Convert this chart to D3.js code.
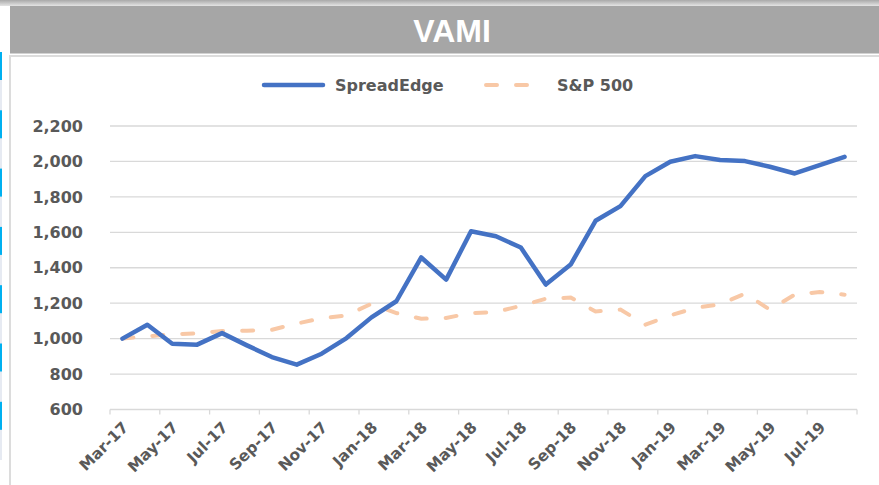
<!DOCTYPE html>
<html>
<head>
<meta charset="utf-8">
<script src="https://cdn.jsdelivr.net/npm/d3@7"></script>
<style>
  html, body { margin: 0; padding: 0; background: #fff; }
  svg { display: block; }
</style>
</head>
<body>
<script>
// data
const months = ["Mar-17","Apr-17","May-17","Jun-17","Jul-17","Aug-17","Sep-17","Oct-17","Nov-17","Dec-17",
  "Jan-18","Feb-18","Mar-18","Apr-18","May-18","Jun-18","Jul-18","Aug-18","Sep-18","Oct-18","Nov-18","Dec-18",
  "Jan-19","Feb-19","Mar-19","Apr-19","May-19","Jun-19","Jul-19","Aug-19"];
const spreadEdge = [1000,1078,971,966,1031,962,896,853,915,1003,1120,1211,1458,1333,1606,1578,1514,1305,1418,
  1665,1748,1917,1998,2030,2008,2002,1970,1932,1979,2026];
const sp500 = [1000,1013,1024,1030,1043,1045,1050,1085,1115,1131,1197,1144,1112,1117,1144,1150,1185,1225,1232,
  1153,1164,1079,1131,1173,1194,1254,1164,1248,1263,1248];
const yTicks = [600,800,1000,1200,1400,1600,1800,2000,2200];
const seriesNames = ["SpreadEdge","S&P 500"];

const width = 879, height = 485;
const plot = { left: 110, right: 857, top: 126, bottom: 409.5 };

const svg = d3.select("body").append("svg")
  .attr("width", width).attr("height", height)
  .attr("viewBox", [0, 0, width, height]);

// frame bits around the chart (it is a screenshot of a sheet)
const grad = svg.append("defs").append("linearGradient")
  .attr("id", "topg").attr("x1", 0).attr("x2", 0).attr("y1", 0).attr("y2", 1);
grad.append("stop").attr("offset", 0).attr("stop-color", "#a9a9a9");
grad.append("stop").attr("offset", 1).attr("stop-color", "#e4e4e4");
svg.append("rect").attr("x", 0).attr("y", 0).attr("width", width).attr("height", 6).attr("fill", "url(#topg)");

svg.append("rect").attr("x", 10).attr("y", 6).attr("width", width - 10).attr("height", 47.5)
  .attr("fill", "#a6a6a6");
svg.append("text")
  .attr("x", 452).attr("y", 41.5)
  .attr("text-anchor", "middle")
  .attr("fill", "#fff")
  .style("font-family", "'Liberation Sans', Arial, sans-serif")
  .style("font-weight", "bold")
  .style("font-size", "32px")
  .text("VAMI");

// panel borders
svg.append("rect").attr("x", 10).attr("y", 55).attr("width", width - 10).attr("height", 2).attr("fill", "#dcdcdc");
svg.append("rect").attr("x", 9).attr("y", 55).attr("width", 2).attr("height", height - 55).attr("fill", "#dcdcdc");

// left strip
svg.append("rect").attr("x", 0).attr("y", 52).attr("width", 2).attr("height", 408).attr("fill", "#e6eaf2");
d3.range(7).forEach(k => {
  svg.append("rect").attr("x", 0).attr("y", 52 + k * 58.3).attr("width", 2).attr("height", 28)
    .attr("fill", "#00b0f0");
});

// scales
const x = d3.scaleBand().domain(months).range([plot.left, plot.right]).padding(0);
const y = d3.scaleLinear().domain([600, 2200]).range([plot.bottom, plot.top]);
const cx = m => x(m) + x.bandwidth() / 2;

// gridlines + y labels
const yAxis = d3.axisLeft(y).tickValues(yTicks).tickFormat(d3.format(",")).tickSize(0).tickPadding(0);
svg.append("g")
  .attr("transform", `translate(83,0)`)
  .call(yAxis)
  .call(g => g.select(".domain").remove())
  .call(g => g.selectAll("text")
    .attr("fill", "#595959")
    .style("font-family", "'DejaVu Sans', sans-serif")
    .style("font-weight", "bold")
    .style("font-size", "16px"));

svg.append("g").selectAll("line")
  .data(yTicks.slice(1))
  .join("line")
  .attr("x1", plot.left).attr("x2", plot.right)
  .attr("y1", d => y(d)).attr("y2", d => y(d))
  .attr("stroke", "#d9d9d9").attr("stroke-width", 1.3);

// x axis: ticks between categories, every 2nd
const bounds = d3.range(0, months.length + 1, 2);
const xg = svg.append("g");
xg.append("line")
  .attr("x1", plot.left).attr("x2", plot.right)
  .attr("y1", y(600)).attr("y2", y(600))
  .attr("stroke", "#d9d9d9").attr("stroke-width", 1.3);
xg.selectAll(".tk").data(bounds).join("line").attr("class", "tk")
  .attr("x1", i => plot.left + i * x.step()).attr("x2", i => plot.left + i * x.step())
  .attr("y1", y(600)).attr("y2", y(600) + 5)
  .attr("stroke", "#d9d9d9").attr("stroke-width", 1.3);
xg.selectAll("text").data(months.filter((m, i) => i % 2 === 0)).join("text")
  .attr("transform", m => `translate(${cx(m) + 3},${y(600) + 15}) rotate(-45)`)
  .attr("text-anchor", "end")
  .attr("dy", "0.35em")
  .attr("fill", "#595959")
  .style("font-family", "'DejaVu Sans', sans-serif")
  .style("font-weight", "bold")
  .style("font-size", "15.5px")
  .text(m => m);

// lines
const line = d3.line().x((d, i) => cx(months[i])).y(d => y(d));

svg.append("path")
  .attr("d", line(sp500))
  .attr("fill", "none")
  .attr("stroke", "#f8c8a6")
  .attr("stroke-width", 4)
  .attr("stroke-linecap", "round")
  .attr("stroke-dasharray", "11,19");

svg.append("path")
  .attr("d", line(spreadEdge))
  .attr("fill", "none")
  .attr("stroke", "#4472c4")
  .attr("stroke-width", 4.5)
  .attr("stroke-linejoin", "round")
  .attr("stroke-linecap", "round");

// legend
const legend = svg.append("g").style("font-family", "'DejaVu Sans', sans-serif")
  .style("font-weight", "bold").style("font-size", "16px");
legend.append("line").attr("x1", 264).attr("x2", 323).attr("y1", 85).attr("y2", 85)
  .attr("stroke", "#4472c4").attr("stroke-width", 4.5).attr("stroke-linecap", "round");
legend.append("text").attr("x", 335).attr("y", 85).attr("dy", "0.35em").attr("fill", "#595959").text(seriesNames[0]);
legend.append("line").attr("x1", 486).attr("x2", 533).attr("y1", 85).attr("y2", 85)
  .attr("stroke", "#f8c8a6").attr("stroke-width", 4).attr("stroke-linecap", "round")
  .attr("stroke-dasharray", "11,19");
legend.append("text").attr("x", 557).attr("y", 85).attr("dy", "0.35em").attr("fill", "#595959").text(seriesNames[1]);
</script>
</body>
</html>
